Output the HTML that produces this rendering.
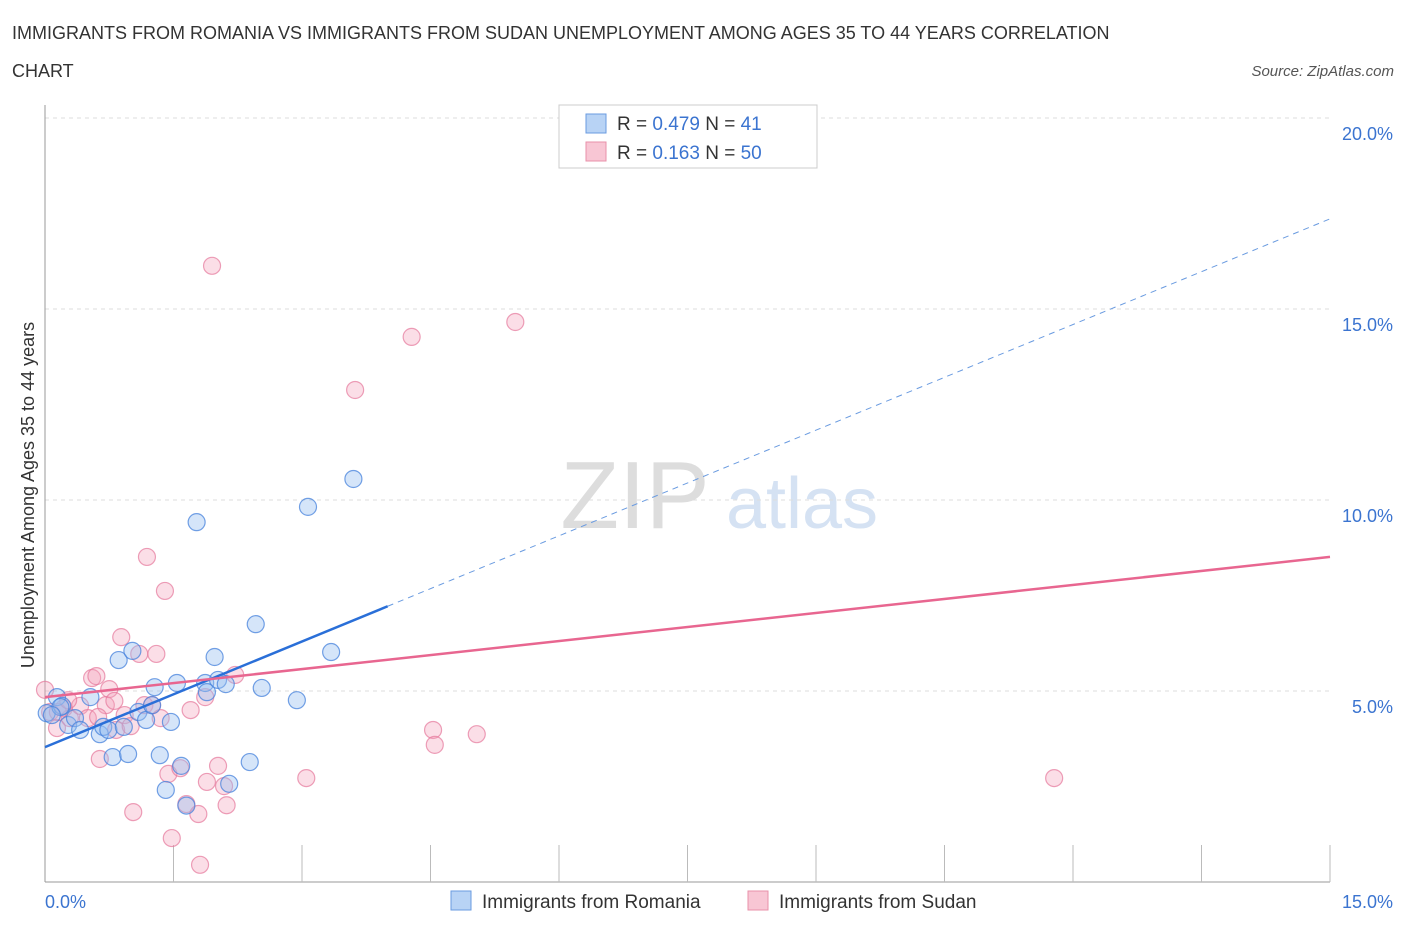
<!DOCTYPE html>
<html><head><meta charset="utf-8"><style>
body{margin:0;background:#fff;font-family:"Liberation Sans",sans-serif;}
svg text{font-family:"Liberation Sans",sans-serif;}
</style></head><body>
<svg id="c" width="1406" height="930" xmlns="http://www.w3.org/2000/svg">
<text x="12" y="39" font-size="18" fill="#333">IMMIGRANTS FROM ROMANIA VS IMMIGRANTS FROM SUDAN UNEMPLOYMENT AMONG AGES 35 TO 44 YEARS CORRELATION</text>
<text x="12" y="77" font-size="18" fill="#333">CHART</text>
<text x="1394" y="76" font-size="15" fill="#555" font-style="italic" text-anchor="end">Source: ZipAtlas.com</text>
<text x="635" y="528" font-size="96" fill="#ddd" font-family="Liberation Serif" text-anchor="middle">ZIP</text>
<text x="802" y="528" font-size="72" fill="#d5e2f3" text-anchor="middle">atlas</text>
<text transform="translate(34,495) rotate(-90)" font-size="18" fill="#333" text-anchor="middle">Unemployment Among Ages 35 to 44 years</text>
<g id="grid"></g><g id="pts"></g><g id="lines"></g>
<g>
<rect x="559" y="105" width="258" height="63" fill="#fff" stroke="#ccc"/>
<rect x="586" y="114" width="20" height="19" fill="#b8d3f5" stroke="#6a9be0"/>
<rect x="586" y="142" width="20" height="19" fill="#f8c6d4" stroke="#e890aa"/>
<text x="617" y="130" font-size="19" fill="#333">R = <tspan fill="#3b74d0">0.479</tspan>   N =  <tspan fill="#3b74d0">41</tspan></text>
<text x="617" y="159" font-size="19" fill="#333">R =  <tspan fill="#3b74d0">0.163</tspan>   N = <tspan fill="#3b74d0">50</tspan></text>
</g>
<g>
<rect x="451" y="891" width="20" height="19" fill="#b8d3f5" stroke="#6a9be0"/>
<text x="482" y="908" font-size="19" fill="#333">Immigrants from Romania</text>
<rect x="748" y="891" width="20" height="19" fill="#f8c6d4" stroke="#e890aa"/>
<text x="779" y="908" font-size="19" fill="#333">Immigrants from Sudan</text>
</g>
</svg>
<script>
const xTicks=[0,15];
const yTicks=[5,10,15,20];
const blueX=[0.02,0.14,0.2,0.27,0.35,0.41,0.53,0.64,0.68,0.74,0.79,0.86,0.92,0.97,1.02,1.09,1.18,1.25,1.28,1.34,1.41,1.47,1.54,1.59,1.65,1.77,1.87,1.89,1.98,2.02,2.11,2.15,2.39,2.46,2.53,2.94,3.07,3.34,3.6,0.18,0.08];
const blueY=[4.42,4.84,4.61,4.11,4.29,3.98,4.84,3.87,4.06,3.98,3.27,5.81,4.06,3.35,6.05,4.45,4.24,4.63,5.1,3.32,2.41,4.19,5.21,3.04,2.0,9.42,5.21,4.97,5.89,5.29,5.18,2.57,3.14,6.75,5.08,4.76,9.82,6.02,10.55,4.58,4.37];
const pinkX=[0,0.06,0.14,0.22,0.29,0.41,0.5,0.55,0.6,0.64,0.71,0.75,0.81,0.83,0.89,0.93,1,1.03,1.1,1.16,1.19,1.25,1.3,1.35,1.4,1.44,1.48,1.58,1.65,1.7,1.79,1.81,1.87,1.89,1.95,2.02,2.09,2.12,2.22,3.05,3.62,4.28,4.53,4.55,5.04,5.49,11.78,0.15,0.27,0.62];
const pinkY=[5.03,4.45,4.03,4.55,4.29,4.61,4.29,5.34,5.39,3.22,4.63,5.05,4.74,3.98,6.41,4.37,4.08,1.83,5.97,4.63,8.51,4.63,5.97,4.29,7.62,2.83,1.15,2.98,2.04,4.5,1.78,0.45,4.84,2.62,16.13,3.04,2.51,2.01,5.42,2.72,12.88,14.27,3.98,3.59,3.87,14.66,2.72,4.45,4.76,4.32];
const blueLine=[3.53,17.36];const blueSolidEnd=4.0;
const pinkLine=[4.84,8.51];
const NS='http://www.w3.org/2000/svg';
const X=v=>45+v/15*1285, Y=v=>882-v*38.2;
function mk(t,a,p){const e=document.createElementNS(NS,t);for(const k in a)e.setAttribute(k,a[k]);p.appendChild(e);return e;}
const g=document.getElementById('grid');
for(const t of yTicks){
 const l=mk('line',{x1:45,x2:1330,y1:Y(t),y2:Y(t),stroke:'#ddd','stroke-dasharray':'4,4'},g);
 
 
 const tx=mk('text',{x:1393,y:Y(t)+22,'font-size':18,fill:'#3b74d0','text-anchor':'end'},g);tx.textContent=t.toFixed(1)+'%';
 
 
}
mk('line',{x1:45,x2:45,y1:105,y2:882,stroke:'#999'},g);
mk('line',{x1:45,x2:1330,y1:882,y2:882,stroke:'#999'},g);
for(let i=1;i<=10;i++){const x=X(i*1.5);mk('line',{x1:x,x2:x,y1:845,y2:882,stroke:'#bbb'},g);}
for(const t of xTicks){
 const tx=mk('text',{x:t==0?45:1393,y:908,'font-size':18,fill:'#3b74d0','text-anchor':t==0?'start':'end'},g);tx.textContent=t.toFixed(1)+'%';
 
 
}
const p=document.getElementById('pts');
pinkX.forEach((x,i)=>{const c=mk('circle',{cx:X(x),cy:Y(pinkY[i]),r:8.5,fill:'rgba(244,160,185,0.35)',stroke:'rgba(230,120,155,0.7)','stroke-width':1.2},p);
 
 });
blueX.forEach((x,i)=>{const c=mk('circle',{cx:X(x),cy:Y(blueY[i]),r:8.5,fill:'rgba(150,190,240,0.4)',stroke:'rgba(70,130,220,0.75)','stroke-width':1.2},p);
 
 });
const L=document.getElementById('lines');
const by=x=>blueLine[0]+(blueLine[1]-blueLine[0])*x/15;
let a=mk('line',{x1:X(0),y1:Y(by(0)),x2:X(blueSolidEnd),y2:Y(by(blueSolidEnd)),stroke:'#2a6fd8','stroke-width':2.5},L);


a=mk('line',{x1:X(blueSolidEnd),y1:Y(by(blueSolidEnd)),x2:X(15),y2:Y(by(15)),stroke:'#6a9be0','stroke-width':1,'stroke-dasharray':'6,5'},L);


a=mk('line',{x1:X(0),y1:Y(pinkLine[0]),x2:X(15),y2:Y(pinkLine[1]),stroke:'#e86690','stroke-width':2.5},L);


</script>
</body></html>
